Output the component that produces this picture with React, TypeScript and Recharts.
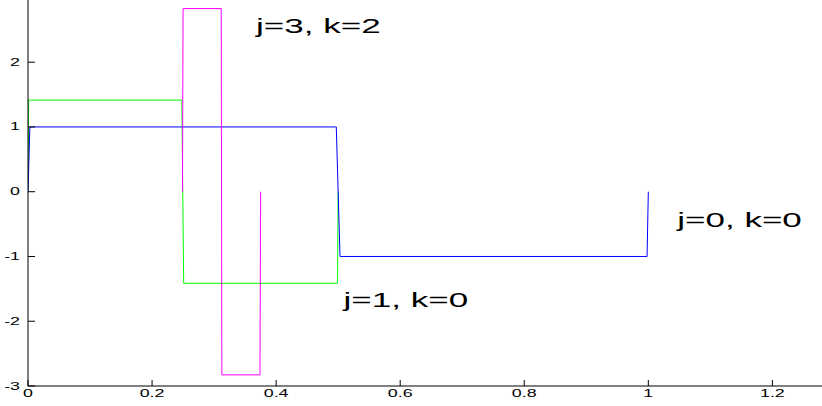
import { LineChart, Line, XAxis, YAxis, ReferenceDot } from 'recharts';

// Haar wavelets psi_{j,k}
const psi00X = [0, 0.003, 0.497, 0.503, 0.998, 1.0];
const psi00Y = [0, 1, 1, -1, -1, 0];

const psi10X = [0, 0.001, 0.248, 0.251, 0.499, 0.5];
const psi10Y = [0, 1.414, 1.414, -1.414, -1.414, 0];

const psi32X = [0.249, 0.25, 0.3115, 0.3125, 0.374, 0.375];
const psi32Y = [0, 2.828, 2.828, -2.828, -2.828, 0];

const xTicks = [0, 0.2, 0.4, 0.6, 0.8, 1, 1.2];
const yTicks = [-3, -2, -1, 0, 1, 2];

const zip = (xs: number[], ys: number[]) => xs.map((x, i) => ({ x, y: ys[i] }));

const XTick = ({ x, y, payload }: any) => (
  <g>
    <line x1={x} y1={y} x2={x} y2={y - 6} stroke="#000" />
    <text
      transform={`translate(${x},${y + 11}) scale(1.7,1)`}
      textAnchor="middle"
      fontFamily="Liberation Sans, Arial, sans-serif"
      fontSize={10.5}
      fill="#000"
    >
      {payload.value}
    </text>
  </g>
);

const YTick = ({ x, y, payload }: any) => (
  <g>
    <line x1={x} y1={y} x2={x + 7} y2={y} stroke="#000" />
    <text
      transform={`translate(${x - 8},${y + 3.5}) scale(1.7,1)`}
      textAnchor="end"
      fontFamily="Liberation Sans, Arial, sans-serif"
      fontSize={10.5}
      fill="#000"
    >
      {payload.value}
    </text>
  </g>
);

const tag = (text: string) => (props: any) => {
  const { viewBox } = props;
  const cx = viewBox.x + viewBox.width / 2;
  const cy = viewBox.y + viewBox.height / 2;
  return (
    <text
      transform={`translate(${cx},${cy}) scale(1.67,1)`}
      textAnchor="middle"
      fontFamily="Liberation Sans, Arial, sans-serif"
      fontSize={21}
      fill="#000"
    >
      {text}
    </text>
  );
};

export default function App() {
  return (
    <div style={{ position: 'absolute', left: 0, top: 0, width: 822, height: 406, background: '#fff' }}>
      <LineChart width={822} height={406} margin={{ top: 0, right: 0, bottom: 0, left: 0 }}>
        <XAxis
          type="number"
          dataKey="x"
          domain={[0, 1.28]}
          ticks={xTicks}
          height={20}
          tickSize={0}
          tickMargin={0}
          tickLine={false}
          axisLine={{ stroke: '#000' }}
          tick={<XTick />}
          allowDataOverflow
        />
        <YAxis
          type="number"
          dataKey="y"
          domain={[-3, 2.96]}
          ticks={yTicks}
          width={28}
          tickSize={0}
          tickMargin={0}
          tickLine={false}
          axisLine={{ stroke: '#000' }}
          tick={<YTick />}
          allowDataOverflow
        />
        <Line data={zip(psi10X, psi10Y)} dataKey="y" type="linear" stroke="#00ff00" strokeWidth={1} dot={false} isAnimationActive={false} />
        <Line data={zip(psi00X, psi00Y)} dataKey="y" type="linear" stroke="#0000ff" strokeWidth={1} dot={false} isAnimationActive={false} />
        <Line data={zip(psi32X, psi32Y)} dataKey="y" type="linear" stroke="#ff00ff" strokeWidth={1} dot={false} isAnimationActive={false} />
        <ReferenceDot x={0.468} y={2.45} r={0} fill="none" stroke="none" ifOverflow="visible" label={tag('j=3, k=2')} />
        <ReferenceDot x={0.609} y={-1.78} r={0} fill="none" stroke="none" ifOverflow="visible" label={tag('j=1, k=0')} />
        <ReferenceDot x={1.147} y={-0.545} r={0} fill="none" stroke="none" ifOverflow="visible" label={tag('j=0, k=0')} />
      </LineChart>
    </div>
  );
}
